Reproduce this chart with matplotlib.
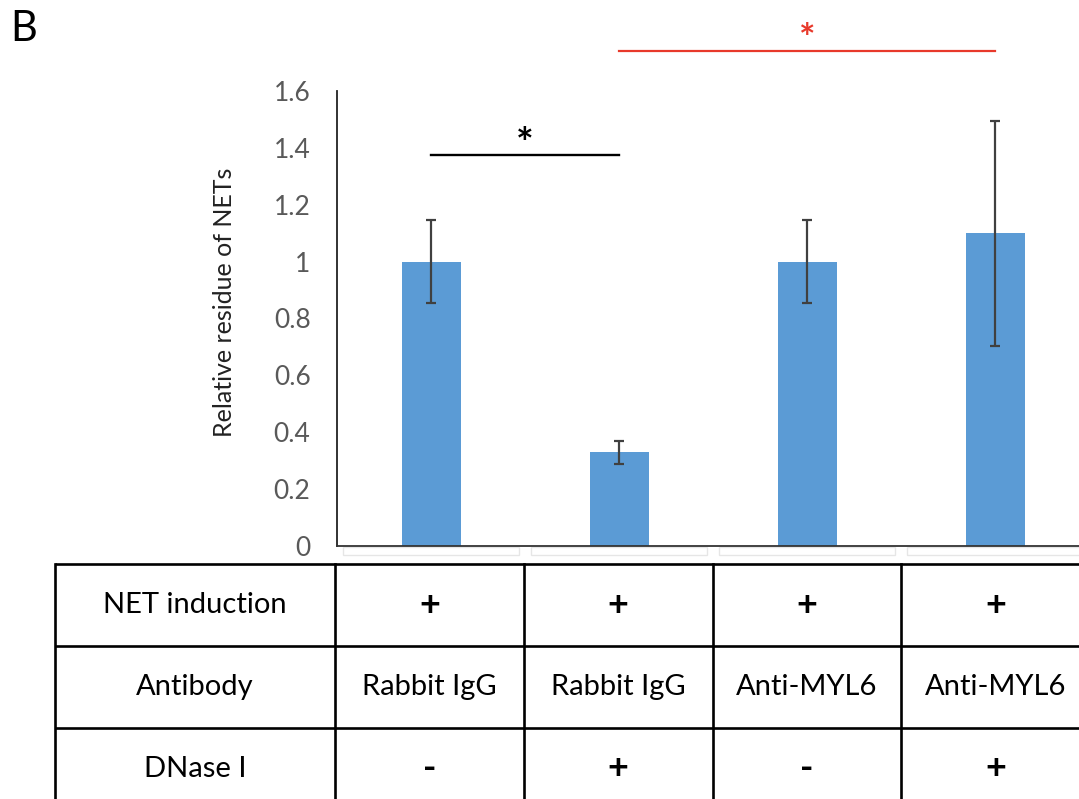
import matplotlib.pyplot as plt
from matplotlib.patches import Rectangle

# data
groups = ["G1", "G2", "G3", "G4"]
values = [1.0, 0.33, 1.0, 1.1]
errors = [0.145, 0.04, 0.145, 0.395]
yticks = [0, 0.2, 0.4, 0.6, 0.8, 1.0, 1.2, 1.4, 1.6]
ytick_labels = ["0", "0.2", "0.4", "0.6", "0.8", "1", "1.2", "1.4", "1.6"]

row_labels = ["NET induction", "Antibody", "DNase I"]
net_induction = ["+", "+", "+", "+"]
antibody = ["Rabbit IgG", "Rabbit IgG", "Anti-MYL6", "Anti-MYL6"]
dnase = ["-", "+", "-", "+"]

# significance brackets: (from group, to group, height)
sig_black = (0, 1, 1.375)
sig_red = (1, 3, 1.74)

BAR_COLOR = "#5B9BD5"
RED = "#E8392B"
FONT = "Lato"

W, H = 1079, 799
fig = plt.figure(figsize=(W / 100, H / 100), dpi=100)
plt.rcParams["font.family"] = [FONT, "DejaVu Sans"]


def fx(px):
    return px / W


def fy(py):
    return 1 - py / H


# main bar axes (right edge runs past the image, as in the cropped original)
left, right, top, bottom = 337, 1089, 91, 546
ax = fig.add_axes([fx(left), fy(bottom), fx(right - left), (bottom - top) / H])
x = list(range(len(groups)))
ax.bar(x, values, width=59 / 188, color=BAR_COLOR, zorder=2)
ax.errorbar(x, values, yerr=errors, fmt="none", ecolor="#404040",
            elinewidth=1.6, capsize=3.5, capthick=1.6, zorder=3)
ax.set_xlim(-0.5, len(groups) - 0.5)
ax.set_ylim(0, 1.6)
ax.set_yticks(yticks)
ax.set_yticklabels(ytick_labels, fontsize=19, color="#595959")
ax.tick_params(axis="y", length=0, pad=19)
ax.set_xticks([])
for s in ("top", "right"):
    ax.spines[s].set_visible(False)
ax.spines["left"].set_color("#222222")
ax.spines["left"].set_linewidth(1.3)
ax.spines["bottom"].set_color("#333333")
ax.spines["bottom"].set_linewidth(1.3)
ax.set_ylabel("Relative residue of NETs", fontsize=18, color="#222222")
ax.yaxis.set_label_coords(-0.134, 0.536)

# significance markers
a, b, h = sig_black
ax.plot([a, b], [h, h], color="black", lw=1.7, clip_on=False)
ax.text((a + b) / 2, h + 0.032, "*", ha="center", va="center", fontsize=30,
        fontweight="bold", color="black")
a, b, h = sig_red
ax.plot([a, b], [h, h], color=RED, lw=1.6, clip_on=False)
ax.text((a + b) / 2, h + 0.04, "*", ha="center", va="center", fontsize=28,
        fontweight="bold", color=RED, clip_on=False)

fig.text(fx(10), fy(29), "B", fontsize=30, ha="left", va="center", color="black")

# faint category label boxes below the axis
for i in x:
    ax.add_patch(Rectangle((i - 0.47, -0.032), 0.94, 0.03, transform=ax.transData,
                           fill=False, edgecolor="#e6e6e6", lw=1, clip_on=False))

# table below the chart
tleft, tright, ttop, row_h = 55, 1090, 564, 82
label_w = (334 - tleft) / 188
ncols = len(groups)
tab = fig.add_axes([fx(tleft), fy(ttop + 3 * row_h), fx(tright - tleft), 3 * row_h / H])
tab.set_xlim(-0.5 - label_w, ncols - 0.5)
tab.set_ylim(3, 0)
tab.axis("off")
lw_t = 1.9
for r in range(4):
    tab.plot([-0.5 - label_w, ncols - 0.5], [r, r], color="black", lw=lw_t,
             solid_capstyle="butt", clip_on=False)
for c in [-0.5 - label_w] + [i - 0.5 for i in range(ncols + 1)]:
    tab.plot([c, c], [0, 3], color="black", lw=lw_t, clip_on=False)

rows = [net_induction, antibody, dnase]
for r, (lab, vals) in enumerate(zip(row_labels, rows)):
    tab.text(-0.5 - label_w / 2, r + 0.5, lab, ha="center", va="center",
             fontsize=21, color="black")
    for i, v in enumerate(vals):
        size = 21 if len(v) > 1 else 26
        tab.text(i, r + 0.5, v, ha="center", va="center", fontsize=size,
                 color="black", fontweight="bold" if len(v) == 1 else "normal")

fig.savefig("out.png", dpi=100)
